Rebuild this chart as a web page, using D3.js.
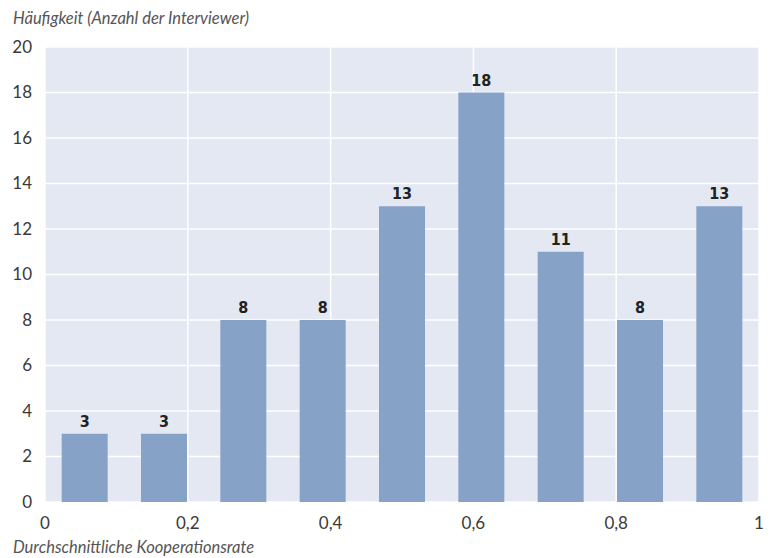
<!DOCTYPE html>
<html>
<head>
<meta charset="utf-8">
<script src="https://cdn.jsdelivr.net/npm/d3@7"></script>
<style>
  body { margin: 0; background: #fff; }
  svg text { font-family: Lato, "Liberation Sans", sans-serif; }
</style>
</head>
<body>
<svg id="chart" width="770" height="558"></svg>
<script>
// bins: 9 equal-width classes between 0 and 1
const binIndex = [0, 1, 2, 3, 4, 5, 6, 7, 8];
const counts = [3, 3, 8, 8, 13, 18, 11, 8, 13];
const xTicks = [0, 0.2, 0.4, 0.6, 0.8, 1];
const xTickLabels = ['0', '0,2', '0,4', '0,6', '0,8', '1'];
const yTicks = [0, 2, 4, 6, 8, 10, 12, 14, 16, 18, 20];

const svg = d3.select('#chart');
const margin = { left: 45, right: 11, top: 47, bottom: 56 };
const W = 770, H = 558;

const x = d3.scaleLinear().domain([0, 1]).range([margin.left, W - margin.right]);
const y = d3.scaleLinear().domain([0, 20]).range([H - margin.bottom, margin.top]);

const binW = 1 / binIndex.length;
const barFrac = 0.58;

// background
svg.append('rect')
  .attr('x', x(0)).attr('y', y(20))
  .attr('width', x(1) - x(0)).attr('height', y(0) - y(20))
  .attr('fill', '#e4e8f3');

// grid
svg.append('g').selectAll('line.h')
  .data(yTicks)
  .join('line')
  .attr('x1', x(0)).attr('x2', x(1))
  .attr('y1', d => y(d)).attr('y2', d => y(d))
  .attr('stroke', '#fff').attr('stroke-width', 1.5);

svg.append('g').selectAll('line.v')
  .data(xTicks)
  .join('line')
  .attr('x1', d => x(d)).attr('x2', d => x(d))
  .attr('y1', y(0)).attr('y2', y(20))
  .attr('stroke', '#fff').attr('stroke-width', 1.5);

// bars
svg.append('g').selectAll('rect')
  .data(binIndex)
  .join('rect')
  .attr('x', i => x((i + 0.5 - barFrac / 2) * binW))
  .attr('width', i => x((i + 0.5 + barFrac / 2) * binW) - x((i + 0.5 - barFrac / 2) * binW))
  .attr('y', i => y(counts[i]))
  .attr('height', i => y(0) - y(counts[i]))
  .attr('fill', '#87a2c7');

// value labels
svg.append('g').selectAll('text')
  .data(binIndex)
  .join('text')
  .attr('x', i => x((i + 0.5) * binW))
  .attr('y', i => y(counts[i]) - 7)
  .attr('text-anchor', 'middle')
  .style('font-family', '"DejaVu Sans Condensed", "DejaVu Sans", sans-serif')
  .style('font-weight', 'bold')
  .style('font-size', '16px')
  .attr('fill', '#222')
  .text(i => counts[i]);

// y tick labels
svg.append('g').selectAll('text')
  .data(yTicks)
  .join('text')
  .attr('x', 32)
  .attr('y', d => y(d))
  .attr('dy', '0.35em')
  .attr('text-anchor', 'end')
  .style('font-size', '17px')
  .attr('fill', '#3a3a3a')
  .text(d => d);

// x tick labels
svg.append('g').selectAll('text')
  .data(xTicks)
  .join('text')
  .attr('x', d => x(d))
  .attr('y', 529)
  .attr('text-anchor', 'middle')
  .style('font-size', '17px')
  .attr('fill', '#3a3a3a')
  .text((d, i) => xTickLabels[i]);

// axis titles
svg.append('text')
  .attr('x', 13).attr('y', 24)
  .style('font-size', '16.5px').style('font-style', 'italic')
  .attr('fill', '#555')
  .text('Häufigkeit (Anzahl der Interviewer)');

svg.append('text')
  .attr('x', 13).attr('y', 553)
  .style('font-size', '16.5px').style('font-style', 'italic')
  .attr('fill', '#555')
  .text('Durchschnittliche Kooperationsrate');
</script>
</body>
</html>
